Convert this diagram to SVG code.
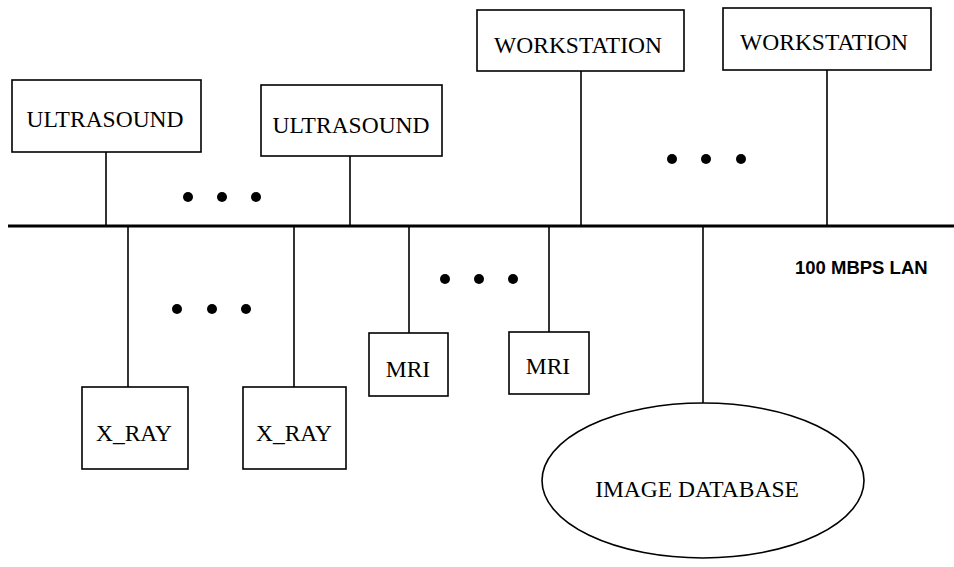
<svg xmlns="http://www.w3.org/2000/svg" width="954" height="567" viewBox="0 0 954 567">
  <style>
    .box { fill: #fff; stroke: #000; stroke-width: 1.6; }
    .lbl { font-family: "Liberation Serif", "Times New Roman", serif; font-size: 23.5px; fill: #000; text-anchor: middle; }
    .lan { font-family: "Liberation Sans", Arial, sans-serif; font-size: 18.5px; font-weight: bold; fill: #000; }
    .wire { stroke: #000; stroke-width: 1.6; fill: none; }
    .bus { stroke: #000; stroke-width: 3; fill: none; }
    .dot { fill: #000; }
  </style>
  <rect width="954" height="567" fill="#fff"/>

  <!-- LAN backbone and drops -->
  <g id="connectors">
    <line class="bus" x1="8" y1="226" x2="954" y2="226"/>
    <line class="wire" x1="106" y1="152" x2="106" y2="226"/>
    <line class="wire" x1="350" y1="156" x2="350" y2="226"/>
    <line class="wire" x1="581" y1="71" x2="581" y2="226"/>
    <line class="wire" x1="827" y1="70" x2="827" y2="226"/>
    <line class="wire" x1="128" y1="226" x2="128" y2="387"/>
    <line class="wire" x1="294" y1="226" x2="294" y2="387"/>
    <line class="wire" x1="409" y1="226" x2="409" y2="333"/>
    <line class="wire" x1="549" y1="226" x2="549" y2="332"/>
    <line class="wire" x1="703" y1="226" x2="703" y2="403"/>
  </g>

  <!-- ellipsis markers -->
  <g id="ellipses">
    <circle class="dot" cx="188" cy="197" r="5"/>
    <circle class="dot" cx="222" cy="197" r="5"/>
    <circle class="dot" cx="256" cy="197" r="5"/>
    <circle class="dot" cx="672" cy="159" r="5"/>
    <circle class="dot" cx="706" cy="159" r="5"/>
    <circle class="dot" cx="741" cy="159" r="5"/>
    <circle class="dot" cx="177" cy="309" r="5"/>
    <circle class="dot" cx="212" cy="309" r="5"/>
    <circle class="dot" cx="246" cy="309" r="5"/>
    <circle class="dot" cx="445" cy="279" r="5"/>
    <circle class="dot" cx="479" cy="279" r="5"/>
    <circle class="dot" cx="513" cy="279" r="5"/>
  </g>

  <g id="ultrasound1">
    <rect class="box" x="12" y="80" width="189" height="72"/>
    <text class="lbl" x="105" y="127">ULTRASOUND</text>
  </g>
  <g id="ultrasound2">
    <rect class="box" x="261" y="85" width="181" height="71"/>
    <text class="lbl" x="351" y="133">ULTRASOUND</text>
  </g>
  <g id="workstation1">
    <rect class="box" x="477" y="10" width="207" height="61"/>
    <text class="lbl" x="578" y="53">WORKSTATION</text>
  </g>
  <g id="workstation2">
    <rect class="box" x="723" y="8" width="208" height="62"/>
    <text class="lbl" x="824" y="50">WORKSTATION</text>
  </g>
  <g id="xray1">
    <rect class="box" x="82" y="387" width="106" height="82"/>
    <text class="lbl" x="134" y="441">X_RAY</text>
  </g>
  <g id="xray2">
    <rect class="box" x="243" y="387" width="103" height="82"/>
    <text class="lbl" x="294" y="441">X_RAY</text>
  </g>
  <g id="mri1">
    <rect class="box" x="369" y="333" width="79" height="63"/>
    <text class="lbl" x="408" y="377">MRI</text>
  </g>
  <g id="mri2">
    <rect class="box" x="509" y="332" width="80" height="62"/>
    <text class="lbl" x="548" y="374">MRI</text>
  </g>
  <g id="image-database">
    <ellipse class="box" cx="703" cy="480.5" rx="161" ry="77.5"/>
    <text class="lbl" x="697" y="497">IMAGE DATABASE</text>
  </g>

  <text id="lan-label" class="lan" x="795" y="274">100 MBPS LAN</text>
</svg>
